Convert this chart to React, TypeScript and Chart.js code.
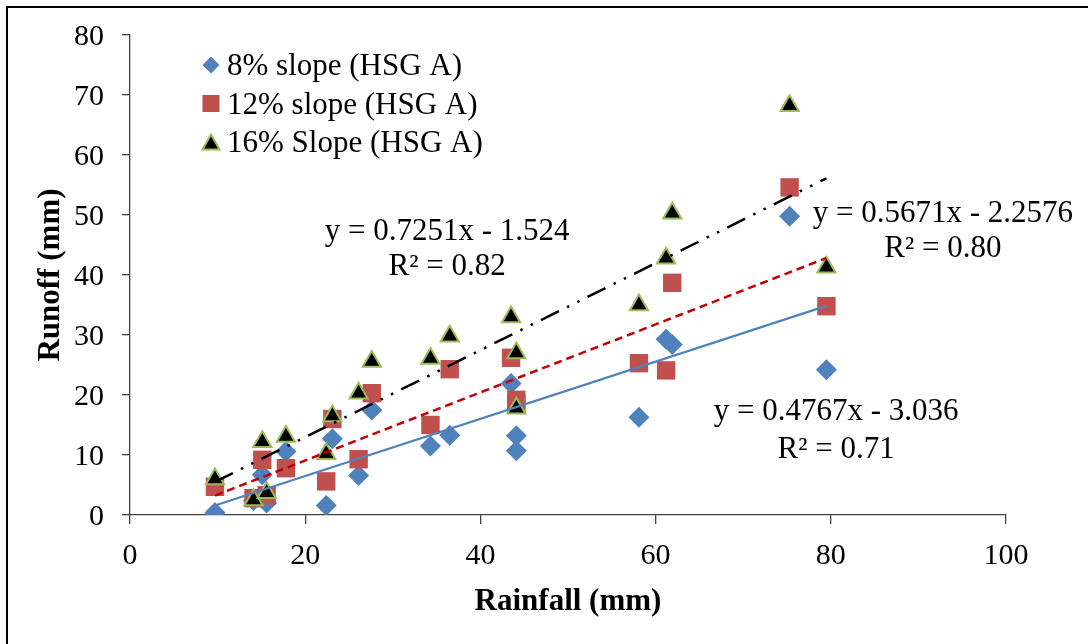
import React, { useEffect, useRef } from "react";
import { Chart, registerables } from "chart.js";

Chart.register(...registerables);

// ---------- data ----------
const rainfall = [9.7, 14.1, 15.1, 15.6, 17.8, 22.4, 23.1, 26.1, 27.6, 34.3, 36.5, 43.5, 44.1, 44.1, 58.1, 61.2, 61.9, 75.3, 79.5];
const runoff8 = [0.4, 2.4, 6.7, 2.0, 10.6, 1.6, 12.7, 6.6, 17.5, 11.5, 13.3, 21.9, 13.2, 10.7, 16.3, 29.3, 28.4, 49.8, 24.2];
const runoff12 = [4.7, 2.8, 9.2, 3.3, 7.8, 5.6, 16.0, 9.3, 20.3, 15.0, 24.3, 26.2, 19.2, 18.6, 25.3, 24.1, 38.7, 54.6, 34.8];
const runoff16 = [6.0, 2.5, 12.2, 3.7, 13.1, 10.2, 16.5, 20.3, 25.6, 26.1, 29.8, 33.0, 27.0, 17.8, 35.0, 42.8, 50.3, 68.2, 41.3];

const seriesNames = ["8% slope (HSG A)", "12% slope (HSG A)", "16% Slope (HSG A)"];
const trendSlopes = [0.4767, 0.5671, 0.7251];
const trendIntercepts = [-3.036, -2.2576, -1.524];
const trendEquations = ["y = 0.4767x - 3.036", "y = 0.5671x - 2.2576", "y = 0.7251x - 1.524"];
const trendR2 = ["R\u00B2 = 0.71", "R\u00B2 = 0.80", "R\u00B2 = 0.82"];

const xTicks = [0, 20, 40, 60, 80, 100];
const yTicks = [0, 10, 20, 30, 40, 50, 60, 70, 80];
const xTitle = "Rainfall (mm)";
const yTitle = "Runoff (mm)";

// ---------- styles / placement ----------
const SERIF = '"Liberation Serif", "Times New Roman", serif';
const BLUE = "#4F81BD";
const RED = "#C0504D";
const GREEN = "#9BBB59";
const AXIS = "#404040";

// equation label anchors in data coordinates (center x, baseline y of each line)
const eqAnchors = [
  { x: 80.6, y1: 15.8, y2: 9.5 },
  { x: 92.8, y1: 48.9, y2: 43.0 },
  { x: 36.2, y1: 45.8, y2: 40.0 },
];

function pts(ys: number[]) {
  return rainfall.map((x, i) => ({ x, y: ys[i] }));
}

function trend(k: number) {
  const x0 = Math.min(...rainfall);
  const x1 = Math.max(...rainfall);
  return [
    { x: x0, y: trendSlopes[k] * x0 + trendIntercepts[k] },
    { x: x1, y: trendSlopes[k] * x1 + trendIntercepts[k] },
  ];
}

function drawDiamond(ctx: CanvasRenderingContext2D, x: number, y: number, r: number) {
  ctx.beginPath();
  ctx.moveTo(x, y - r);
  ctx.lineTo(x + r, y);
  ctx.lineTo(x, y + r);
  ctx.lineTo(x - r, y);
  ctx.closePath();
  ctx.fillStyle = BLUE;
  ctx.fill();
}
function drawSquare(ctx: CanvasRenderingContext2D, x: number, y: number, s: number) {
  ctx.fillStyle = RED;
  ctx.fillRect(x - s / 2, y - s / 2, s, s);
}
function drawTriangle(ctx: CanvasRenderingContext2D, x: number, y: number, w: number, h: number) {
  ctx.beginPath();
  ctx.moveTo(x, y - h / 2);
  ctx.lineTo(x + w / 2, y + h / 2);
  ctx.lineTo(x - w / 2, y + h / 2);
  ctx.closePath();
  ctx.fillStyle = "#000";
  ctx.fill();
  ctx.lineWidth = 2;
  ctx.strokeStyle = GREEN;
  ctx.stroke();
}

const textPlugin = {
  id: "customTexts",
  afterDraw(chart: any) {
    const ctx: CanvasRenderingContext2D = chart.ctx;
    const xs = chart.scales.x;
    const ys = chart.scales.y;
    const area = chart.chartArea;
    ctx.save();
    ctx.fillStyle = "#000";
    ctx.textBaseline = "alphabetic";

    // tick labels
    ctx.font = `30px ${SERIF}`;
    ctx.textAlign = "right";
    yTicks.forEach((v) => ctx.fillText(String(v), area.left - 26, ys.getPixelForValue(v) + 10));
    ctx.textAlign = "center";
    xTicks.forEach((v) => ctx.fillText(String(v), xs.getPixelForValue(v), area.bottom + 49));

    // axis titles
    ctx.font = `bold 31px ${SERIF}`;
    ctx.fillText(xTitle, (area.left + area.right) / 2, area.bottom + 95);
    ctx.save();
    ctx.translate(59, (area.top + area.bottom) / 2);
    ctx.rotate(-Math.PI / 2);
    ctx.textAlign = "center";
    ctx.fillText(yTitle, 0, 0);
    ctx.restore();

    // trendline equations
    ctx.font = `31px ${SERIF}`;
    ctx.textAlign = "center";
    eqAnchors.forEach((a, k) => {
      const px = xs.getPixelForValue(a.x);
      ctx.fillText(trendEquations[k], px, ys.getPixelForValue(a.y1));
      ctx.fillText(trendR2[k], px, ys.getPixelForValue(a.y2));
    });

    // legend
    const lx = 211;
    const rows = [65, 103.5, 142];
    drawDiamond(ctx, lx, rows[0], 8.5);
    drawSquare(ctx, lx, rows[1], 17);
    drawTriangle(ctx, lx, rows[2], 17, 15);
    ctx.fillStyle = "#000";
    ctx.textAlign = "left";
    ctx.font = `31px ${SERIF}`;
    seriesNames.forEach((n, i) => ctx.fillText(n, 227, rows[i] + 10));

    ctx.restore();
  },
};

export default function App() {
  const ref = useRef<HTMLCanvasElement | null>(null);

  useEffect(() => {
    if (!ref.current) return;
    const chart = new Chart(ref.current, {
      type: "scatter",
      data: {
        datasets: [
          {
            label: "trend8",
            data: trend(0),
            showLine: true,
            borderColor: BLUE,
            borderWidth: 2.2,
            pointRadius: 0,
            order: 0,
          },
          {
            label: "trend12",
            data: trend(1),
            showLine: true,
            borderColor: "#C00000",
            borderWidth: 2.5,
            borderDash: [8, 5],
            pointRadius: 0,
            order: 0,
          },
          {
            label: "trend16",
            data: trend(2),
            showLine: true,
            borderColor: "#000000",
            borderWidth: 2.5,
            borderDash: [20, 9, 2.5, 9, 2.5, 9],
            pointRadius: 0,
            order: 0,
          },
          {
            label: seriesNames[2],
            data: pts(runoff16),
            pointStyle: "triangle",
            pointRadius: 10.5,
            backgroundColor: "#000000",
            borderColor: GREEN,
            borderWidth: 2,
            order: 1,
          },
          {
            label: seriesNames[1],
            data: pts(runoff12),
            pointStyle: "rect",
            pointRadius: 13,
            backgroundColor: RED,
            borderColor: RED,
            borderWidth: 0,
            order: 2,
          },
          {
            label: seriesNames[0],
            data: pts(runoff8),
            pointStyle: "rectRot",
            pointRadius: 10.5,
            backgroundColor: BLUE,
            borderColor: BLUE,
            borderWidth: 0,
            order: 3,
          },
        ],
      },
      options: {
        animation: false,
        responsive: false,
        devicePixelRatio: 1,
        layout: { padding: { left: 0, right: 82, top: 35, bottom: 0 } },
        plugins: { legend: { display: false }, tooltip: { enabled: false } },
        scales: {
          x: {
            type: "linear",
            min: 0,
            max: 100,
            ticks: { stepSize: 20, color: "rgba(0,0,0,0)", font: { size: 30, family: SERIF } },
            grid: { drawOnChartArea: false, drawTicks: true, tickLength: 9, color: AXIS, lineWidth: 1.3 },
            border: { color: AXIS, width: 1.3 },
            afterFit: (s: any) => {
              s.height = 129;
            },
          },
          y: {
            type: "linear",
            min: 0,
            max: 80,
            ticks: { stepSize: 10, color: "rgba(0,0,0,0)", font: { size: 30, family: SERIF } },
            grid: { drawOnChartArea: false, drawTicks: true, tickLength: 8, color: AXIS, lineWidth: 1.3 },
            border: { color: AXIS, width: 1.3 },
            afterFit: (s: any) => {
              s.width = 130;
            },
          },
        },
      },
      plugins: [textPlugin],
    } as any);
    return () => chart.destroy();
  }, []);

  return (
    <div style={{ position: "absolute", left: 0, top: 0, width: 1088, height: 644, background: "#fff", overflow: "hidden" }}>
      <div
        style={{
          position: "absolute",
          left: 6,
          top: 6,
          width: 1090,
          height: 636,
          borderTop: "2px solid #000",
          borderLeft: "2px solid #000",
          borderBottom: "1px solid #aaa",
        }}
      />
      <canvas ref={ref} width={1088} height={644} style={{ position: "absolute", left: 0, top: 0, width: 1088, height: 644 }} />
    </div>
  );
}
